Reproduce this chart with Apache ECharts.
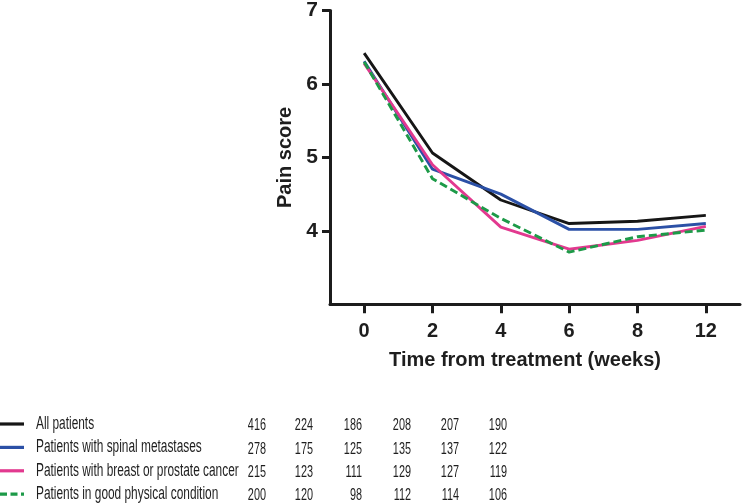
<!DOCTYPE html>
<html>
<head>
<meta charset="utf-8">
<script src="https://cdn.jsdelivr.net/npm/echarts@6/dist/echarts.min.js"></script>
<style>
html,body{margin:0;padding:0;background:#fff;}
#chart{width:742px;height:504px;}
</style>
</head>
<body>
<div id="chart"></div>
<script>
// ---- data ----
const categories = ['0', '2', '4', '6', '8', '12'];
const seriesNames = [
  'All patients',
  'Patients with spinal metastases',
  'Patients with breast or prostate cancer',
  'Patients in good physical condition'
];
const allPatients    = [6.42, 5.06, 4.42, 4.10, 4.13, 4.21];
const spinalMets     = [6.31, 4.84, 4.50, 4.02, 4.02, 4.10];
const breastProstate = [6.28, 4.90, 4.05, 3.75, 3.87, 4.06];
const goodCondition  = [6.30, 4.71, 4.17, 3.71, 3.92, 4.01];
const nAll            = [416, 224, 186, 208, 207, 190];
const nSpinal         = [278, 175, 125, 135, 137, 122];
const nBreastProstate = [215, 123, 111, 129, 127, 119];
const nGood           = [200, 120, 98, 112, 114, 106];
const yTicks = [4, 5, 6, 7];
const xAxisTitle = 'Time from treatment (weeks)';
const yAxisTitle = 'Pain score';

// ---- styles ----
const seriesData = [allPatients, spinalMets, breastProstate, goodCondition];
const countData = [nAll, nSpinal, nBreastProstate, nGood];
const colors = ['#161616', '#2b50a6', '#e2398f', '#1d9a48'];
const lineTypes = ['solid', 'solid', 'solid', [8, 4]];
const axisColor = '#1c1c1c';
const textColor = '#1e1e1e';

const chart = echarts.init(document.getElementById('chart'), null, {renderer: 'canvas'});

const series = seriesData.map((d, i) => ({
  name: seriesNames[i],
  type: 'line',
  data: d,
  symbol: 'none',
  z: 2 + i,
  lineStyle: {color: colors[i], width: 2.9, type: lineTypes[i]},
  itemStyle: {color: colors[i]},
  animation: false
}));

// table / legend below the chart
const rowY0 = 424, rowDy = 23.4;
const colRight = [266, 313, 362, 411, 459, 507];
const graphic = [];
seriesNames.forEach((name, i) => {
  const y = rowY0 + i * rowDy;
  graphic.push({
    type: 'line', x: 0, y: y,
    shape: {x1: 0, y1: 0, x2: 24, y2: 0},
    style: {stroke: colors[i], lineWidth: 3.2, lineDash: i === 3 ? [7, 3.5] : null}
  });
  graphic.push({
    type: 'text', x: 36, y: y, scaleX: 0.66,
    style: {text: name, x: 0, y: 0, fill: textColor,
      font: '18px "Liberation Sans", Arial, sans-serif',
      textAlign: 'left', textVerticalAlign: 'middle', align: 'left', verticalAlign: 'middle'}
  });
  countData[i].forEach((v, j) => {
    graphic.push({
      type: 'text', x: colRight[j], y: y + 1.5, scaleX: 0.64,
      style: {text: String(v), x: 0, y: 0, fill: textColor,
        font: '17px "Liberation Sans", Arial, sans-serif',
        textAlign: 'right', textVerticalAlign: 'middle', align: 'right', verticalAlign: 'middle'}
    });
  });
});

chart.setOption({
  animation: false,
  backgroundColor: '#fff',
  grid: {left: 330, right: 2, top: 9.3, bottom: 199.7, containLabel: false},
  xAxis: {
    type: 'category',
    data: categories,
    boundaryGap: true,
    name: xAxisTitle,
    nameLocation: 'middle',
    nameGap: 46,
    nameTextStyle: {color: textColor, fontSize: 20, fontWeight: 'bold',
      fontFamily: '"Liberation Sans", Arial, sans-serif', padding: [0, 20, 0, 0]},
    axisLine: {show: true, lineStyle: {color: axisColor, width: 3}},
    axisTick: {show: true, alignWithLabel: true, length: 9, lineStyle: {color: axisColor, width: 3}},
    axisLabel: {color: textColor, fontSize: 20, fontWeight: 'bold', margin: 17,
      fontFamily: '"Liberation Sans", Arial, sans-serif'},
    splitLine: {show: false}
  },
  yAxis: {
    type: 'value',
    min: 3, max: 7, interval: 1,
    name: yAxisTitle,
    nameLocation: 'middle',
    nameGap: 32,
    nameTextStyle: {color: textColor, fontSize: 20, fontWeight: 'bold',
      fontFamily: '"Liberation Sans", Arial, sans-serif'},
    axisLine: {show: true, lineStyle: {color: axisColor, width: 3}},
    axisTick: {show: true, length: 8, customValues: yTicks, lineStyle: {color: axisColor, width: 3}},
    axisLabel: {color: textColor, fontSize: 21, fontWeight: 'bold', margin: 12,
      customValues: yTicks,
      fontFamily: '"Liberation Sans", Arial, sans-serif'},
    splitLine: {show: false}
  },
  series: series,
  graphic: graphic
});
</script>
</body>
</html>
